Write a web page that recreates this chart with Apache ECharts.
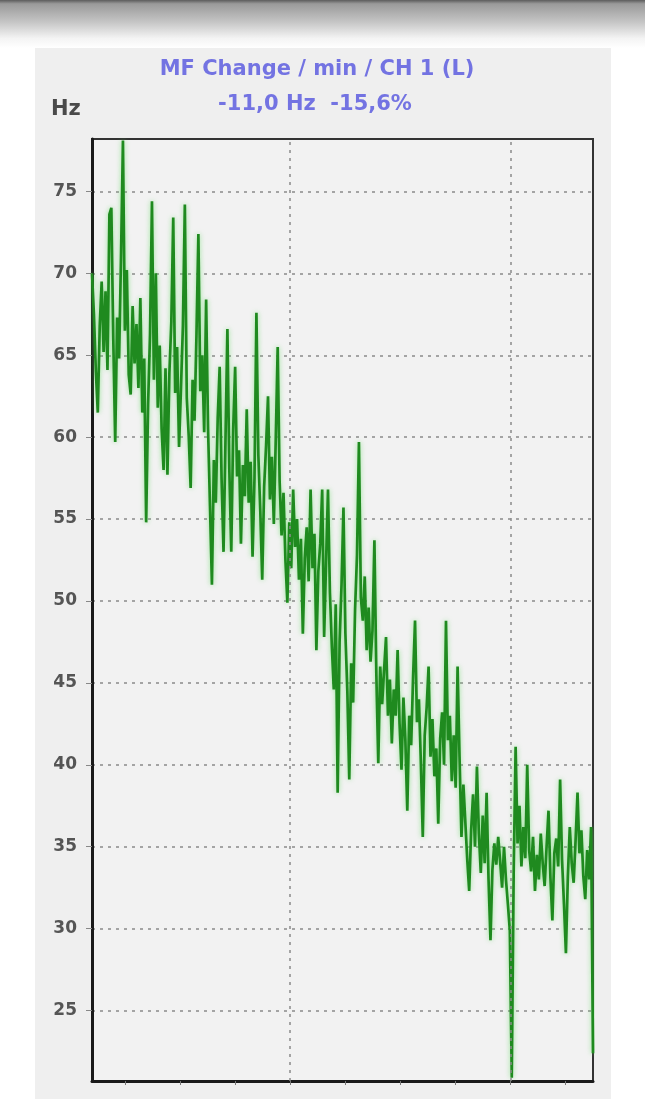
<!DOCTYPE html>
<html>
<head>
<meta charset="utf-8">
<style>
  html, body { margin: 0; padding: 0; background: #ffffff; }
  #chart { width: 645px; height: 1099px; }
</style>
<script src="https://cdn.jsdelivr.net/npm/echarts@6/dist/echarts.min.js"></script>
</head>
<body>
<div id="chart"></div>
<script>
// ---- data ----
const titleLine1 = 'MF Change / min / CH 1 (L)';
const titleLine2 = '-11,0 Hz  -15,6%';
const yUnit = 'Hz';
const yTickValues = [25, 30, 35, 40, 45, 50, 55, 60, 65, 70, 75];
const xTickValues = [3, 8, 13, 18, 23, 28, 33, 38, 43];
const xGridValues = [18, 38];
const xRange = [0, 45.5];
const yRange = [20.7, 78.2];
const sampleStep = 45.5 / 259;   // time between samples
const mfValues = [
  70.0, 67.5, 64.0, 61.5, 66.8, 69.5, 65.2, 68.9, 64.1, 73.6,
  74.0, 66.0, 59.7, 67.3, 64.8, 71.0, 78.1, 66.5, 70.2, 63.8,
  62.6, 68.0, 64.5, 66.9, 63.0, 68.5, 61.5, 64.8, 54.8, 62.0,
  66.3, 74.4, 63.5, 70.0, 61.8, 65.6, 60.5, 58.0, 64.2, 57.7,
  63.9, 67.0, 73.4, 62.7, 65.5, 59.4, 63.0, 66.8, 74.2, 62.4,
  60.1, 56.9, 63.5, 61.0, 66.2, 72.4, 62.8, 65.0, 60.3, 68.4,
  60.5, 55.8, 51.0, 58.6, 56.0, 61.2, 64.3, 57.4, 53.0, 59.8,
  66.6, 58.0, 53.0, 60.5, 64.3, 57.6, 59.2, 53.5, 58.3, 56.4,
  61.7, 56.0, 58.5, 52.7, 57.5, 67.6, 58.9, 55.5, 51.3, 57.0,
  59.5, 62.5, 56.2, 58.8, 54.7, 59.9, 65.5, 57.3, 54.0, 56.6,
  52.5, 49.9, 54.8, 52.0, 56.8, 53.3, 55.0, 51.3, 53.8, 48.0,
  52.6, 54.5, 51.2, 56.8, 52.0, 54.1, 47.0, 51.8, 53.5, 56.8,
  47.8, 52.3, 56.8, 50.5, 47.2, 44.6, 49.8, 38.3, 47.5, 51.0,
  55.7, 48.0, 44.5, 39.1, 46.2, 43.8, 49.5, 52.8, 59.7, 50.2,
  48.8, 51.5, 47.0, 49.6, 46.3, 48.2, 53.7, 45.5, 40.1, 46.0,
  43.7, 45.8, 47.8, 43.0, 45.2, 41.3, 44.6, 43.0, 47.0, 42.5,
  39.7, 44.1, 41.5, 37.2, 43.0, 41.2, 45.4, 48.8, 42.6, 44.0,
  40.2, 35.6, 41.8, 43.5, 46.0, 40.5, 42.8, 39.3, 41.0, 36.4,
  41.6, 43.2, 40.0, 48.8, 41.5, 43.0, 39.0, 41.8, 38.6, 46.0,
  40.5, 35.6, 38.8, 36.5, 34.2, 32.3, 36.0, 38.2, 35.0, 39.9,
  35.8, 33.4, 36.9, 34.0, 38.3, 33.0, 29.3, 33.6, 35.2, 33.9,
  35.6, 34.1, 32.5, 35.0, 33.0, 31.5, 29.9, 20.9, 33.5, 41.1,
  35.2, 37.5, 33.8, 36.2, 34.3, 40.0, 34.8, 33.5, 35.6, 32.3,
  34.5, 33.0, 35.8, 34.0, 32.6, 35.0, 37.2, 33.1, 30.5, 34.6,
  35.5, 33.8, 39.1, 34.2, 31.5, 28.5, 33.2, 36.2, 34.0, 32.8,
  35.4, 38.3, 34.6, 36.0, 33.2, 31.8, 34.8, 33.0, 36.2, 22.4
];

const seriesData = mfValues.map((v, i) => [i * sampleStep, v]);

const chart = echarts.init(document.getElementById('chart'), null, { renderer: 'canvas' });

const gridDash = { color: '#8a8a8a', width: 1.5, type: [3, 5] };
const titleFont = 'bold 21px "DejaVu Sans", Verdana, sans-serif';

chart.setOption({
  backgroundColor: '#ffffff',
  animation: false,
  graphic: [
    {
      type: 'rect', z: -10, silent: true,
      shape: { x: 0, y: 0, width: 645, height: 48 },
      style: {
        fill: {
          type: 'linear', x: 0, y: 0, x2: 0, y2: 1,
          colorStops: [
            { offset: 0, color: '#5c5c5c' },
            { offset: 0.08, color: '#9a9a9a' },
            { offset: 0.45, color: '#c4c4c4' },
            { offset: 0.8, color: '#f4f4f4' },
            { offset: 1, color: '#ffffff' }
          ]
        }
      }
    },
    {
      type: 'rect', z: -9, silent: true,
      shape: { x: 35, y: 48, width: 576, height: 1051 },
      style: { fill: '#efefef' }
    },
    {
      type: 'text', z: 10,
      style: {
        text: titleLine1, fill: '#7373e2', font: titleFont,
        textAlign: 'center', textVerticalAlign: 'middle'
      },
      x: 317, y: 70
    },
    {
      type: 'text', z: 10,
      style: {
        text: titleLine2, fill: '#7373e2', font: titleFont,
        textAlign: 'center', textVerticalAlign: 'middle'
      },
      x: 315, y: 105
    },
    {
      type: 'text', z: 10,
      style: {
        text: yUnit, fill: '#4a4a4a',
        font: 'bold 21px "DejaVu Sans", Verdana, sans-serif',
        textVerticalAlign: 'middle'
      },
      x: 51, y: 110
    }
  ],
  grid: {
    left: 92, right: 52, top: 139, bottom: 18,
    show: true,
    backgroundColor: '#f2f2f2',
    borderColor: '#333333',
    borderWidth: 2
  },
  xAxis: {
    type: 'value',
    min: xRange[0], max: xRange[1],
    axisLine: { show: true, onZero: false, lineStyle: { color: '#1a1a1a', width: 3 } },
    axisTick: { show: true, customValues: xTickValues, length: 4, lineStyle: { color: '#777', width: 1 } },
    axisLabel: { show: false },
    splitLine: { show: false }
  },
  yAxis: {
    type: 'value',
    min: yRange[0], max: yRange[1],
    axisLine: { show: true, onZero: false, lineStyle: { color: '#1a1a1a', width: 3 } },
    axisTick: { show: true, customValues: yTickValues, length: 6, lineStyle: { color: '#888', width: 1 } },
    axisLabel: {
      show: true, customValues: yTickValues, margin: 15,
      color: '#555555', fontSize: 17, fontWeight: 'bold',
      fontFamily: '"DejaVu Sans", Verdana, sans-serif'
    },
    splitLine: { show: true, lineStyle: gridDash }
  },
  series: [
    {
      type: 'line',
      data: [],
      z: 1,
      silent: true,
      markLine: {
        silent: true,
        symbol: 'none',
        label: { show: false },
        lineStyle: gridDash,
        data: xGridValues.map(v => ({ xAxis: v }))
      }
    },
    {
      type: 'line',
      data: seriesData,
      z: 3,
      showSymbol: false,
      silent: true,
      lineStyle: {
        color: '#1f8a1f',
        width: 2.7,
        shadowColor: 'rgba(100,220,100,0.65)',
        shadowBlur: 5
      }
    }
  ]
});
</script>
</body>
</html>
